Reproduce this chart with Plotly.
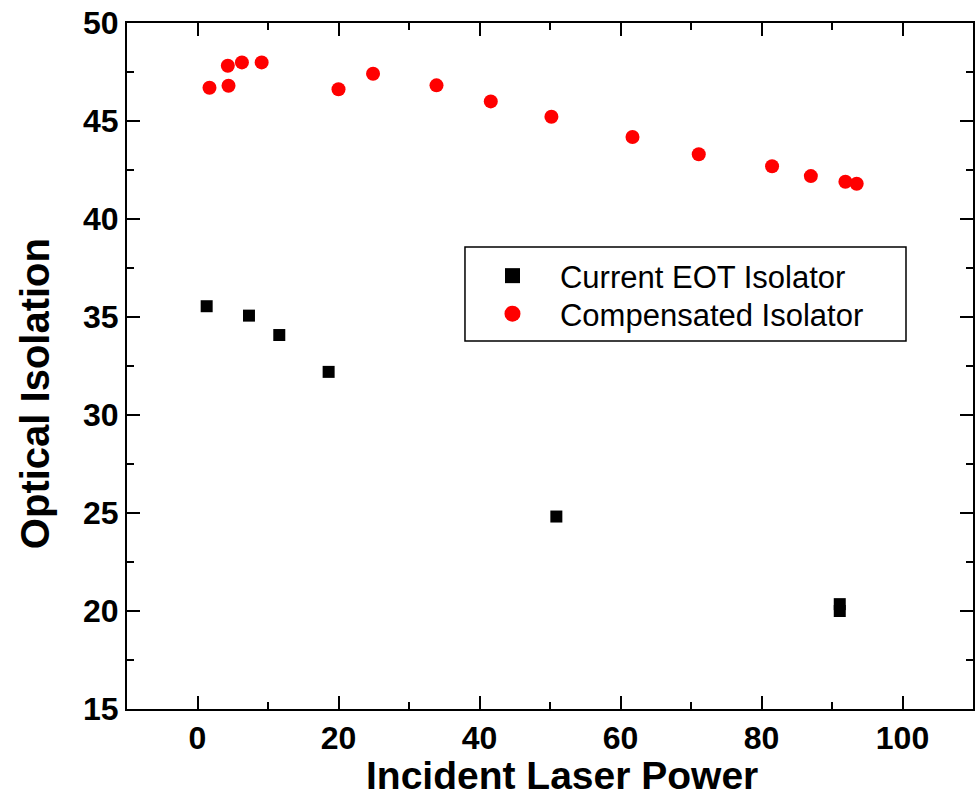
import plotly.graph_objects as go

eot_x = [1.3, 7.3, 11.6, 18.6, 50.9, 91.1, 91.1]
eot_y = [35.55, 35.07, 34.08, 32.2, 24.82, 20.35, 20.0]

comp_x = [1.7, 4.3, 4.4, 6.3, 9.1, 20.0, 24.9, 33.9, 41.6, 50.2, 61.7, 71.1, 81.5, 87.0, 91.9, 93.5]
comp_y = [46.7, 47.82, 46.8, 47.99, 47.99, 46.62, 47.41, 46.82, 46.0, 45.22, 44.18, 43.3, 42.69, 42.19, 41.9, 41.8]

names = ["Current EOT Isolator", "Compensated Isolator"]

x_range = [-10, 110]
y_range = [15, 50]

FONT = "Liberation Sans, Arial, sans-serif"

fig = go.Figure()
fig.add_trace(go.Scatter(x=eot_x, y=eot_y, mode="markers", name=names[0], showlegend=False,
                         marker=dict(symbol="square", size=12, color="black")))
fig.add_trace(go.Scatter(x=comp_x, y=comp_y, mode="markers", name=names[1], showlegend=False,
                         marker=dict(symbol="circle", size=14, color="#ff0000")))
# legend entries (no data)
fig.add_trace(go.Scatter(x=[None], y=[None], mode="markers", name=names[0], legend="legend",
                         marker=dict(symbol="square", size=15, color="black")))
fig.add_trace(go.Scatter(x=[None], y=[None], mode="markers", name=names[1], legend="legend2",
                         marker=dict(symbol="circle", size=18, color="#ff0000")))

axis_common = dict(
    showline=True, linecolor="black", linewidth=2, mirror="allticks",
    ticks="inside", ticklen=13, tickwidth=2, tickcolor="black",
    showgrid=False, zeroline=False, automargin=False,
    tickfont=dict(family=FONT, size=32, color="black", weight="bold"),
)

fig.update_xaxes(range=x_range, tick0=0, dtick=20,
                 minor=dict(ticks="inside", ticklen=7, tickwidth=2, dtick=10, tick0=0, tickcolor="black", showgrid=False),
                 **axis_common)
fig.update_yaxes(range=y_range, tick0=15, dtick=5,
                 minor=dict(ticks="inside", ticklen=7, tickwidth=2, dtick=2.5, tick0=15, tickcolor="black", showgrid=False),
                 **axis_common)

fig.add_annotation(text="Incident Laser Power", xref="paper", yref="paper",
                   x=0.5142, y=-0.1305, xanchor="center", yanchor="bottom", showarrow=False,
                   font=dict(family=FONT, size=39, color="black", weight="bold"))
fig.add_annotation(text="Optical Isolation", xref="paper", yref="paper",
                   x=-0.1087, y=0.459, xanchor="center", yanchor="middle", showarrow=False, textangle=-90,
                   font=dict(family=FONT, size=40, color="black", weight="bold"))

fig.add_shape(type="rect", xref="paper", yref="paper",
              x0=0.3995, x1=0.9208, y0=0.5364, y1=0.6735,
              line=dict(color="black", width=1.5), fillcolor="white", layer="below")

leg_common = dict(xanchor="left", yanchor="middle", borderwidth=0, bgcolor="rgba(0,0,0,0)",
                  itemwidth=85, font=dict(family=FONT, size=31, color="black"))

fig.update_layout(
    width=980, height=799,
    margin=dict(l=127, r=7, t=23, b=90),
    plot_bgcolor="white", paper_bgcolor="white",
    showlegend=True,
    legend=dict(x=0.3995, y=(709 - 276) / 686, **leg_common),
    legend2=dict(x=0.3995, y=(709 - 314) / 686, **leg_common),
)

fig.write_html("out.html")
